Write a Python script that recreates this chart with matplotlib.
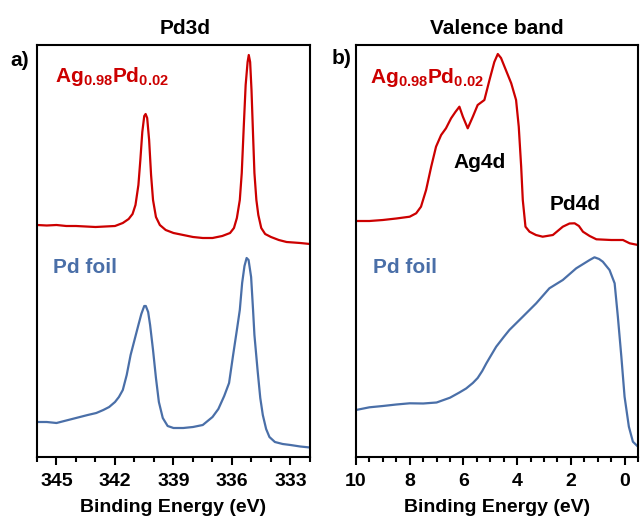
import matplotlib
matplotlib.use("Agg")
import matplotlib.pyplot as plt
from matplotlib.ticker import MultipleLocator

plt.rcParams['font.family'] = ['Liberation Sans', 'DejaVu Sans']
plt.rcParams['font.weight'] = 'bold'
plt.rcParams['mathtext.fontset'] = 'custom'
plt.rcParams['mathtext.rm'] = 'Liberation Sans:bold'
plt.rcParams['mathtext.bf'] = 'Liberation Sans:bold'
plt.rcParams['mathtext.it'] = 'Liberation Sans:bold'

RED = '#CC0000'
BLUE = '#4A6FA8'

# ---- Pd3d core level (binding energy in eV, intensity in a.u., offset stacked) ----
pd3d_alloy_be = [346.0, 345.5, 345.0, 344.5, 344.0, 343.5, 343.0, 342.5, 342.0, 341.6,
                 341.3, 341.1, 340.95, 340.8, 340.7, 340.6, 340.5, 340.43, 340.35, 340.25,
                 340.15, 340.05, 339.9, 339.7, 339.4, 339.0, 338.5, 338.0, 337.5, 337.0,
                 336.5, 336.1, 335.9, 335.75, 335.6, 335.5, 335.4, 335.3, 335.2, 335.14,
                 335.07, 335.0, 334.92, 334.85, 334.75, 334.65, 334.5, 334.3, 334.0, 333.6,
                 333.2, 332.5, 332.0]
pd3d_alloy_int = [232, 231.5, 232, 231, 231, 230.5, 230, 230.5, 231, 234,
                  238, 243, 252, 272, 297, 325, 341, 343, 339, 317,
                  282, 257, 240, 232, 227, 224, 222, 220, 219, 219,
                  221, 224, 229, 239, 257, 284, 329, 372, 395, 402,
                  395, 367, 322, 284, 257, 242, 229, 223, 220, 217,
                  215, 214, 213]

pd3d_foil_be = [346.0, 345.5, 345.0, 344.4, 343.8, 343.4, 342.96, 342.6, 342.3, 342.0,
                341.8, 341.6, 341.4, 341.2, 341.0, 340.8, 340.65, 340.5, 340.42, 340.3,
                340.2, 340.05, 339.9, 339.75, 339.55, 339.3, 339.0, 338.5, 338.0, 337.5,
                337.0, 336.7, 336.4, 336.15, 335.95, 335.75, 335.6, 335.48, 335.36, 335.25,
                335.15, 335.02, 334.92, 334.85, 334.68, 334.55, 334.42, 334.25, 334.08, 333.8,
                333.4, 333.0, 332.5, 332.0]
pd3d_foil_int = [35, 35, 34, 37, 40, 42, 44, 47, 50, 55,
                 60, 67, 82, 102, 117, 132, 143, 151, 151, 145,
                 132, 107, 79, 55, 39, 31, 29, 29, 30, 32,
                 40, 48, 61, 74, 101, 127, 147, 174, 191, 199,
                 197, 180, 147, 122, 85, 59, 42, 28, 20, 15,
                 13, 12, 10.5, 9.5]

# ---- Valence band ----
vb_alloy_be = [10.0, 9.5, 9.0, 8.5, 8.0, 7.76, 7.58, 7.39, 7.2, 7.02,
               6.83, 6.65, 6.46, 6.3, 6.15, 6.02, 5.84, 5.65, 5.47, 5.22,
               5.03, 4.85, 4.72, 4.6, 4.47, 4.22, 4.04, 3.94, 3.85, 3.79,
               3.69, 3.54, 3.3, 3.05, 2.67, 2.3, 2.05, 1.86, 1.7, 1.55,
               1.3, 1.05, 0.5, 0.06, -0.19, -0.5]
vb_alloy_int = [236, 236, 237, 238.5, 240.3, 243.7, 250.3, 267, 290.3, 310.3,
                322, 328.7, 338.7, 345, 350.3, 340.3, 328.7, 340.3, 352, 357,
                377, 395, 403, 399, 390.3, 373.7, 357, 330.3, 290.3, 257,
                230.3, 225.3, 222, 220.3, 222, 230.3, 233.5, 233.7, 231, 225.3,
                221, 217.7, 217, 217, 213.7, 212]

vb_foil_be = [10.0, 9.5, 9.0, 8.5, 8.0, 7.5, 7.0, 6.5, 6.15, 5.9,
              5.65, 5.47, 5.3, 5.15, 5.03, 4.78, 4.5, 4.29, 3.79, 3.29,
              2.8, 2.3, 1.8, 1.3, 1.12, 0.95, 0.81, 0.56, 0.37, 0.25,
              0.12, 0.0, -0.16, -0.31, -0.5]
vb_foil_int = [47, 49.7, 51, 52.5, 53.7, 53.5, 54.5, 59.3, 64.5, 68.5,
               74, 79, 86, 93.5, 99, 110.3, 120, 127, 140.3, 153.7,
               168.7, 177, 188.7, 197, 199.7, 198, 195.3, 187, 173.7, 140.3,
               100.3, 60.3, 30.3, 15.3, 10.3]

pd3d_ticks = [345, 342, 339, 336, 333]
vb_ticks = [10, 8, 6, 4, 2, 0]

W, H = 640, 516
fig = plt.figure(figsize=(W / 100, H / 100), dpi=100)


def fx(px):
    return px / W


def fy(py):
    return 1 - py / H


ax1 = fig.add_axes([fx(37), fy(457), (310 - 37) / W, 412 / H])
ax2 = fig.add_axes([fx(356), fy(457), (638 - 356) / W, 412 / H])

ax1.plot(pd3d_alloy_be, pd3d_alloy_int, color=RED, lw=1.6)
ax1.plot(pd3d_foil_be, pd3d_foil_int, color=BLUE, lw=1.6)
ax2.plot(vb_alloy_be, vb_alloy_int, color=RED, lw=1.6)
ax2.plot(vb_foil_be, vb_foil_int, color=BLUE, lw=1.6)

ax1.set_xlim(346, 332)
ax2.set_xlim(10, -0.5)
ax1.xaxis.set_minor_locator(MultipleLocator(1))
ax2.xaxis.set_minor_locator(MultipleLocator(0.5))
ax1.set_xticks(pd3d_ticks)
ax2.set_xticks(vb_ticks)

for ax in (ax1, ax2):
    ax.set_ylim(0, 412)
    ax.set_yticks([])
    for s in ax.spines.values():
        s.set_linewidth(1.5)
        s.set_color('black')
    ax.tick_params(axis='x', which='major', direction='out', length=5.8, width=1.5,
                   pad=6.0, labelsize=14)
    ax.tick_params(axis='x', which='minor', direction='out', length=3.6, width=1.5)
    for lbl in ax.get_xticklabels():
        lbl.set_fontweight('bold')
    ax.set_xlabel('Binding Energy (eV)', fontsize=14, fontweight='bold', va='baseline')
    ax.xaxis.set_label_coords(0.5, (457 - 511.5) / 412)

# panel titles and labels
fig.text(fx(185.5), fy(33.5), 'Pd3d', ha='center', va='baseline', fontsize=15, fontweight='bold')
fig.text(fx(497), fy(33.5), 'Valence band', ha='center', va='baseline', fontsize=15, fontweight='bold')
fig.text(fx(10), fy(66), 'a)', ha='left', va='baseline', fontsize=15, fontweight='bold')
fig.text(fx(332), fy(64.5), 'b)', ha='left', va='baseline', fontsize=15, fontweight='bold')

alloy = r'$\mathbf{Ag_{0.98}Pd_{0.02}}$'
fig.text(fx(55), fy(82), alloy, ha='left', va='baseline', fontsize=15, color=RED)
fig.text(fx(370), fy(83), alloy, ha='left', va='baseline', fontsize=15, color=RED)
fig.text(fx(53), fy(272.7), 'Pd foil', ha='left', va='baseline', fontsize=15,
         fontweight='bold', color=BLUE)
fig.text(fx(372.7), fy(272.7), 'Pd foil', ha='left', va='baseline', fontsize=15,
         fontweight='bold', color=BLUE)
fig.text(fx(453), fy(168.5), 'Ag4d', ha='left', va='baseline', fontsize=15, fontweight='bold')
fig.text(fx(550), fy(210), 'Pd4d', ha='left', va='baseline', fontsize=15, fontweight='bold')

fig.savefig('out.png', dpi=100)
